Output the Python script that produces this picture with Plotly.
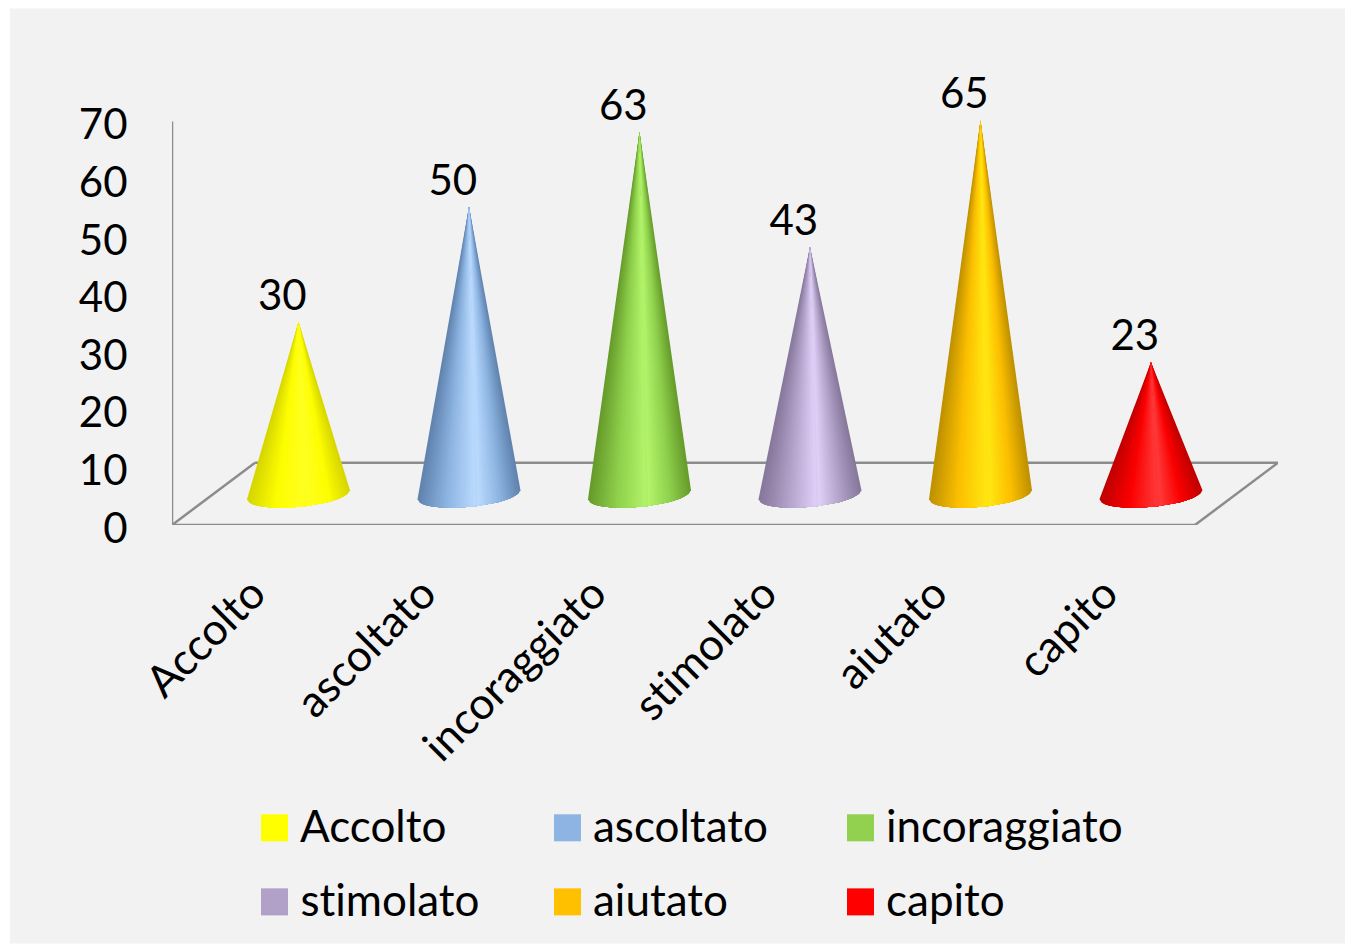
import plotly.graph_objects as go

categories = ["Accolto", "ascoltato", "incoraggiato", "stimolato", "aiutato", "capito"]
values = [30, 50, 63, 43, 65, 23]
legend_colors = ["#ffff00", "#8db4e2", "#92d050", "#b1a0c7", "#ffc000", "#ff0000"]
edge_colors = ["#d6d600", "#5f82ad", "#659a2a", "#85769a", "#bd9000", "#c00000"]
mid_colors = ["#fdfd00", "#8db4e2", "#8fd04c", "#b1a0c7", "#fcbf00", "#fa0000"]
high_colors = ["#ffff22", "#bcdcff", "#b4f56c", "#e2d2fa", "#ffe812", "#ff3c3c"]
y_ticks = [0, 10, 20, 30, 40, 50, 60, 70]

W, H = 1345, 945
L, R, B = 172, 1278, 525
UNIT = 5.757       # pixels per value unit
YMAX = 70.8
T = B - YMAX * UNIT
FONT = "Lato"
FS_NUM = 42
FS_TXT = 44
GRAY = "#8c8c8c"

XMIN, XMAX = -0.742, 5.745
XFRONT = 5.258     # right end of the floor's front edge
DEPTH = 10.8       # floor depth, in value units
BASE = 5.25        # how far back the cones stand on the floor
RX, RY, TILT = 0.302, 2.1, 0.8
N = 48
PEAK = 0.58        # where the highlight sits across the cone


def rgb(h):
    return [int(h[i:i + 2], 16) for i in (1, 3, 5)]


def shade(f, edge, mid, high):
    stops = [(0.0, edge), (0.28, mid), (PEAK, high), (0.8, mid), (1.0, edge)]
    for (a, ca), (b, cb) in zip(stops, stops[1:]):
        if f <= b:
            k = (f - a) / (b - a)
            c = [round(p + (q - p) * k) for p, q in zip(rgb(ca), rgb(cb))]
            return f"rgb({c[0]},{c[1]},{c[2]})"
    return edge


def px(x):
    return (x - L) / (R - L)


def py(y):
    return (B - y) / (B - T)


def arc(k):
    """Point k of N along the front of the tilted base, relative to the cone centre."""
    u = -1 + 2 * k / N
    return RX * u, BASE - RY * max(0.0, 1 - u ** 2) ** 0.5 + TILT * u


fig = go.Figure()
centre = round(PEAK * N)

# cones: painted from both outer edges in towards the highlight, each band
# overlapping the next, with a last band over the middle so that no seams show
for i, v in enumerate(values):
    apex_y = v + BASE
    bands = [(s, list(range(s, centre + 2))) for s in range(centre)]
    bands += [(s - 1, list(range(centre, s + 1))) for s in range(N, centre, -1)]
    bands += [(centre + 1, list(range(centre - 1, centre + 3))),
              (centre, list(range(centre, centre + 2)))]
    for s, arc_idx in bands:
        pts = [arc(k) for k in arc_idx]
        col = shade((s + 0.5) / N, edge_colors[i], mid_colors[i], high_colors[i])
        fig.add_trace(go.Scatter(
            x=[i] + [i + p[0] for p in pts] + [i],
            y=[apex_y] + [p[1] for p in pts] + [apex_y],
            mode="lines", fill="toself", fillcolor=col,
            line=dict(color=col, width=0),
            hoverinfo="skip", showlegend=False, cliponaxis=False,
        ))

# value labels
fig.add_trace(go.Scatter(
    x=[i - 0.095 for i in range(len(values))], y=[v + BASE + 0.25 for v in values],
    mode="text", text=[str(v) for v in values], textposition="top center",
    textfont=dict(family=FONT, size=FS_NUM, color="#000000"),
    name="value", showlegend=False, cliponaxis=False,
))

line = dict(color=GRAY, width=2.5)
shapes = [
    dict(type="rect", xref="paper", yref="paper", x0=px(10), x1=px(1345), y0=py(9), y1=py(943),
         fillcolor="#f2f2f2", line_width=0, layer="below"),
    dict(type="line", x0=XMIN, y0=0, x1=XMIN, y1=70, line=line, layer="below"),
    dict(type="line", x0=XMIN, y0=0, x1=XFRONT, y1=0, line=line, layer="below"),
    dict(type="line", x0=XMIN, y0=0, x1=XMIN + (XMAX - XFRONT), y1=DEPTH, line=line, layer="below"),
    dict(type="line", x0=XMIN + (XMAX - XFRONT), y0=DEPTH, x1=XMAX, y1=DEPTH, line=line, layer="below"),
    dict(type="line", x0=XMAX, y0=DEPTH, x1=XFRONT, y1=0, line=line, layer="below"),
]

# legend, three columns by two rows
annotations = []
for i, (name, col) in enumerate(zip(categories, legend_colors)):
    sx = [261, 554, 847][i % 3]
    sy = [814, 888][i // 3]
    shapes.append(dict(type="rect", xref="paper", yref="paper",
                       x0=px(sx), x1=px(sx + 27), y0=py(sy), y1=py(sy + 27),
                       fillcolor=col, line_width=0))
    annotations.append(dict(xref="paper", yref="paper", x=px(sx + 37), y=py(sy + 11),
                            text=name, showarrow=False, xanchor="left", yanchor="middle",
                            font=dict(family=FONT, size=FS_TXT, color="#000000")))

fig.update_layout(
    width=W, height=H,
    margin=dict(l=L, r=W - R, t=T, b=H - B, pad=0),
    paper_bgcolor="#ffffff", plot_bgcolor="rgba(0,0,0,0)",
    showlegend=False, shapes=shapes, annotations=annotations,
    font=dict(family=FONT, size=FS_NUM, color="#000000"),
    xaxis=dict(range=[XMIN, XMAX], showgrid=False, zeroline=False,
               tickmode="array", tickvals=[i - 0.27 for i in range(len(categories))],
               ticktext=categories, tickangle=-45,
               ticks="outside", ticklen=24, tickcolor="rgba(0,0,0,0)",
               tickfont=dict(family=FONT, size=FS_TXT, color="#000000")),
    yaxis=dict(range=[0, YMAX], showgrid=False, zeroline=False,
               tickmode="array", tickvals=y_ticks,
               ticks="outside", ticklen=35, tickcolor="rgba(0,0,0,0)",
               ticklabelshift=3,
               tickfont=dict(family=FONT, size=FS_NUM, color="#000000")),
)

fig.write_html(
    "out.html",
    config=dict(displayModeBar=False),
    post_script="document.body.style.margin='0';"
                "var s=document.createElement('style');"
                "s.textContent='text{font-variant-ligatures:none!important;"
                "font-feature-settings:\"liga\" 0,\"clig\" 0,\"dlig\" 0!important}';"
                "document.head.appendChild(s);",
)
